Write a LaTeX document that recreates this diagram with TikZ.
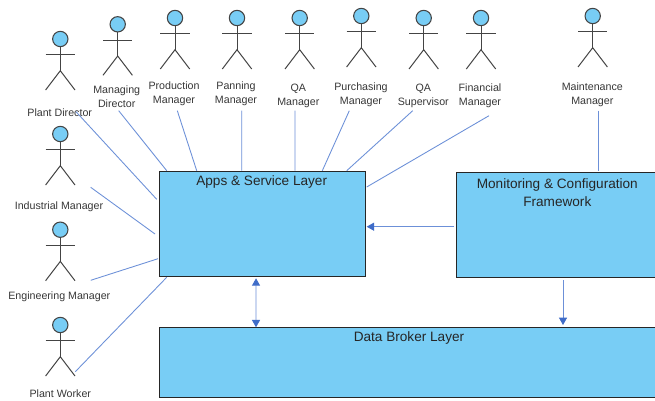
\documentclass[tikz,border=0pt]{standalone}
\usepackage{fontspec}
\setmainfont{Liberation Sans}
\usetikzlibrary{calc,arrows.meta}
\definecolor{skyfill}{HTML}{78CDF5}
\definecolor{linkblue}{HTML}{6C90D8}
\definecolor{tipblue}{HTML}{3F6CC8}
\definecolor{actorline}{HTML}{444444}
\tikzset{
  head/.style={circle,draw=actorline,fill=skyfill,line width=0.8pt,minimum size=11.5pt,inner sep=0pt,outer sep=0pt},
  limb/.style={draw=actorline,line width=0.75pt},
  lab/.style={font=\fontsize{8pt}{10.7pt}\selectfont,text=black!78,align=center,inner sep=0pt,outer sep=0pt},
  title/.style={font=\fontsize{10.2pt}{13.5pt}\selectfont,text=black!85,align=center,inner sep=0pt,outer sep=0pt},
  box/.style={draw=black!85,fill=skyfill,line width=0.7pt,inner sep=0pt,outer sep=0pt},
  conn/.style={draw=linkblue,line width=0.65pt},
  tipend/.style={conn,-{Triangle[length=5.5pt,width=6pt,color=tipblue]}},
  tipboth/.style={conn,{Triangle[length=5.5pt,width=6pt,color=tipblue]}-{Triangle[length=5.5pt,width=6pt,color=tipblue]}},
  pics/actor/.style={code={
    \node[head] (-head) at (0,0) {};
    \draw[limb] (-head.south) -- (0,31.7);
    \draw[limb] (-14.7,15.7) -- (14.7,15.7);
    \draw[limb] (-14.7,51) -- (0,31.7) -- (14.7,51);
  }}
}
\begin{document}
\begin{tikzpicture}[x=0.75pt,y=-0.75pt]
\useasboundingbox (0,0) rectangle (655,400);
\clip (0,0) rectangle (655,400);
\fill[white] (0,0) rectangle (655,400);

% layers
\node[box,minimum width=155pt,minimum height=78.75pt] (apps) at (262.35,224.2) {};
\node[box,minimum width=151.5pt,minimum height=78.75pt] (mon) at (557,225.2) {};
\node[box,minimum width=374.25pt,minimum height=52.5pt] (data) at (408.5,362) {};
\node[title] (tApps) at (261.7,182.3) {Apps \& Service Layer};
\node[title] (tMon) at (557.3,192.4) {Monitoring \& Configuration\\Framework};
\node[title] (tData) at (409,338) {Data Broker Layer};

% actors
\pic (aPD) at (60.3,39) {actor};
\pic (aMD) at (117.7,24.3) {actor};
\pic (aProd) at (175,18) {actor};
\pic (aPan) at (237,18) {actor};
\pic (aQA) at (299.7,18) {actor};
\pic (aPur) at (361.3,16) {actor};
\pic (aQS) at (423.7,18) {actor};
\pic (aFin) at (481,18) {actor};
\pic (aMnt) at (592.7,16) {actor};
\pic (aInd) at (60.3,134) {actor};
\pic (aEng) at (60.3,229.7) {actor};
\pic (aWrk) at (60.3,325) {actor};

% actor labels
\node[lab] (lPD) at (59.7,112.5) {Plant Director};
\node[lab] (lMD) at (116.7,96.8) {Managing\\Director};
\node[lab] (lProd) at (174,93.8) {Production\\Manager};
\node[lab] (lPan) at (236,93.8) {Panning\\Manager};
\node[lab] (lQA) at (298.3,96.1) {QA\\Manager};
\node[lab] (lPur) at (361,94.8) {Purchasing\\Manager};
\node[lab] (lQS) at (423.3,96.1) {QA\\Supervisor};
\node[lab] (lFin) at (480,96.1) {Financial\\Manager};
\node[lab] (lMnt) at (592.3,94.8) {Maintenance\\Manager};
\node[lab] (lInd) at (59,206.8) {Industrial Manager};
\node[lab] (lEng) at (59.3,296.5) {Engineering Manager};
\node[lab] (lWrk) at (60.3,393.8) {Plant Worker};

% associations
\draw[conn] ($(lPD)+(16.3,-0.8)$) -- ($(apps.north west)+(-2.3,27.6)$);
\draw[conn] ($(lMD)+(2,13.9)$) -- ($(apps.north west)+(7.7,-1)$);
\draw[conn] ($(lProd)+(3.3,16.9)$) -- ($(apps.north west)+(37.7,-1)$);
\draw[conn] ($(lPan)+(5.7,16.9)$) -- ($(apps.north west)+(82.7,-1)$);
\draw[conn] ($(lQA)+(-3.3,14.6)$) -- ($(apps.north west)+(136,-1)$);
\draw[conn] ($(lPur)+(-11.7,15.9)$) -- ($(apps.north west)+(163.3,-1)$);
\draw[conn] ($(lQS)+(-10.6,14.6)$) -- ($(apps.north west)+(187.7,-1)$);
\draw[conn] ($(lFin)+(9,19.6)$) -- ($(apps.north west)+(207.7,15.3)$);
\draw[conn] ($(lMnt)+(6,15.9)$) -- ($(mon.north west)+(142.3,-2)$);
\draw[conn] ($(lInd)+(31.7,-19.5)$) -- ($(apps.north west)+(-4,62.3)$);
\draw[conn] ($(lEng)+(31.4,-16.2)$) -- ($(apps.north west)+(-1,87)$);
\draw[conn] ($(lWrk)+(15,-22.1)$) -- ($(apps.north west)+(7.7,105.6)$);

% arrows
\draw[tipboth] ($(apps.south west)+(97,1.6)$) -- ($(data.north west)+(97,0.3)$);
\draw[tipend] ($(mon.north west)+(-2,54)$) -- ($(apps.north east)+(1,55)$);
\draw[tipend] ($(mon.south west)+(107,2.3)$) -- ($(data.north west)+(404,-2)$);
\end{tikzpicture}
\end{document}
